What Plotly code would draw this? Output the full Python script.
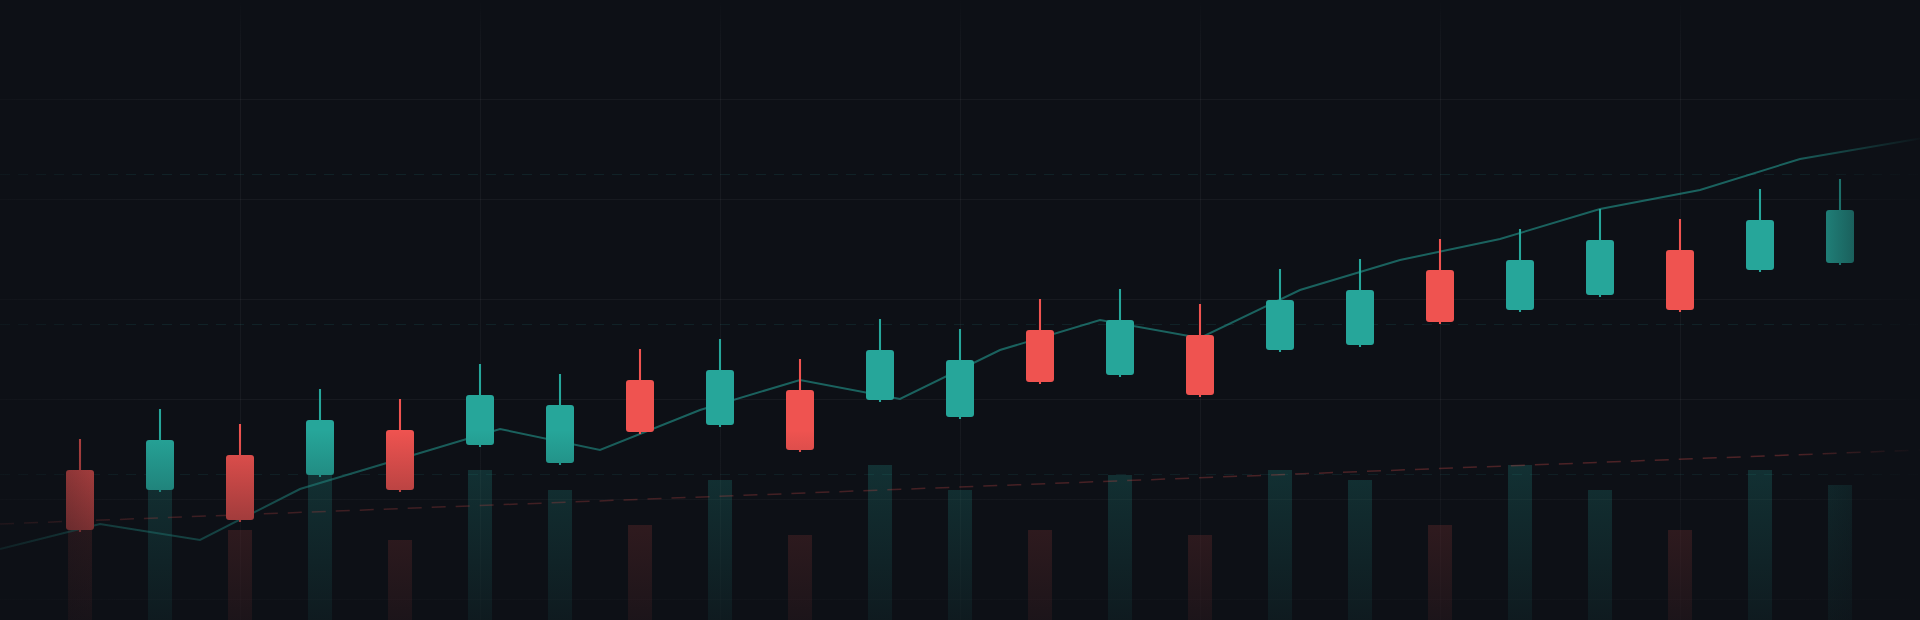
import plotly.graph_objects as go

BG = "#0d1016"
UP = "#26a69a"
DOWN = "#ef5350"

# ---- data ----
candle_idx = list(range(23))
open_ = [115.0, 113.0, 116.5, 114.5, 119.0, 117.5, 115.7, 124.0, 119.5, 123.0, 122.0, 120.3,
         129.0, 124.5, 128.5, 127.0, 127.5, 135.0, 131.0, 132.5, 137.0, 135.0, 135.7]
close = [109.0, 118.0, 110.0, 120.0, 113.0, 122.5, 121.5, 118.8, 125.0, 117.0, 127.0, 126.0,
         123.8, 130.0, 122.5, 132.0, 133.0, 129.8, 136.0, 138.0, 131.0, 140.0, 141.0]
high = [118.1, 121.1, 119.6, 123.1, 122.1, 125.6, 124.6, 127.1, 128.1, 126.1, 130.1, 129.1,
        132.1, 133.1, 131.6, 135.1, 136.1, 138.1, 139.1, 141.1, 140.1, 143.1, 144.1]
low = [108.8, 112.8, 109.8, 114.3, 112.8, 117.3, 115.5, 118.6, 119.3, 116.8, 121.8, 120.1,
       123.6, 124.3, 122.3, 126.8, 127.3, 129.6, 130.8, 132.3, 130.8, 134.8, 135.5]
volume = [900, 1300, 900, 1450, 800, 1500, 1300, 950, 1400, 850, 1550, 1300,
          900, 1450, 850, 1500, 1400, 950, 1550, 1300, 900, 1500, 1350]

ma_idx = list(range(21))
ma_values = [107.1, 109.6, 108.0, 113.1, 116.1, 119.1, 117.0, 121.0, 124.0, 122.1,
             127.0, 130.0, 128.2, 133.0, 136.0, 138.1, 141.1, 143.0, 146.1, 147.8, 149.5]

trend_pos = [0, 19.2]
trend_values = [109.6, 117.0]

# ---- derived ----
up = [c >= o for o, c in zip(open_, close)]
colors = [UP if u else DOWN for u in up]
vol_colors = ["rgba(38,166,154,0.26)" if u else "rgba(239,83,80,0.24)" for u in up]
body_base = [min(o, c) for o, c in zip(open_, close)]
body_len = [abs(c - o) for o, c in zip(open_, close)]
wick_len = [h - l for h, l in zip(high, low)]

fig = go.Figure()

# volume (bottom layer)
fig.add_trace(go.Bar(x=candle_idx, y=volume, width=0.3, marker=dict(color=vol_colors, line=dict(width=0)),
                     xaxis="x", yaxis="y", hoverinfo="skip"))

# trend line and moving average
fig.add_trace(go.Scatter(x=trend_pos, y=trend_values, mode="lines",
                         line=dict(color="rgba(239,83,80,0.32)", width=1.5, dash="14px,10px"),
                         xaxis="x2", yaxis="y2", hoverinfo="skip"))
fig.add_trace(go.Scatter(x=ma_idx, y=ma_values, mode="lines",
                         line=dict(color="rgba(38,166,154,0.55)", width=2),
                         xaxis="x2", yaxis="y2", hoverinfo="skip"))

# candles: wicks then bodies
fig.add_trace(go.Bar(x=candle_idx, y=wick_len, base=low, width=0.026,
                     marker=dict(color=colors, line=dict(width=0)),
                     xaxis="x3", yaxis="y3", hoverinfo="skip"))
fig.add_trace(go.Bar(x=candle_idx, y=body_len, base=body_base, width=0.35,
                     marker=dict(color=colors, line=dict(width=0), cornerradius=3),
                     xaxis="x3", yaxis="y3", hoverinfo="skip"))

# edge fades (decoration)
def bgc(a):
    return f"rgba(13,16,22,{a})"

def fade(x0, x1, y0, y1, kind, start, stop, a0, a1):
    fig.add_trace(go.Scatter(
        x=[x0, x1, x1, x0, x0], y=[y0, y0, y1, y1, y0], mode="lines", fill="toself",
        line=dict(width=0), fillgradient=dict(type=kind, start=start, stop=stop,
                                             colorscale=[[0, bgc(a0)], [1, bgc(a1)]]),
        xaxis="x4", yaxis="y4", hoverinfo="skip"))

fade(0, 1920, 0, 190, "vertical", 0, 190, 0.72, 0.0)
fade(0, 1920, 565, 620, "vertical", 565, 620, 0.0, 1.0)
fade(0, 150, 0, 620, "horizontal", 0, 150, 0.6, 0.0)
fade(1790, 1920, 0, 620, "horizontal", 1790, 1920, 0.0, 0.95)

hidden = dict(visible=False, showgrid=False, zeroline=False, fixedrange=True)
fig.update_layout(
    width=1920, height=620, margin=dict(l=0, r=0, t=0, b=0, pad=0),
    paper_bgcolor=BG, plot_bgcolor=BG, showlegend=False, barmode="overlay", hovermode=False,
    xaxis=dict(range=[-1, 23], showticklabels=False, ticks="", zeroline=False, showline=False,
               tickmode="array", tickvals=[2, 5, 8, 11, 14, 17, 20], showgrid=True,
               gridcolor="rgba(255,255,255,0.045)", gridwidth=1, fixedrange=True),
    yaxis=dict(range=[0, 6200], showticklabels=False, ticks="", zeroline=False, showline=False,
               tickmode="linear", tick0=210, dtick=1000, showgrid=True,
               gridcolor="rgba(255,255,255,0.045)", gridwidth=1, fixedrange=True,
               minor=dict(tickmode="array", tickvals=[1460, 2960, 4460], showgrid=True,
                          gridcolor="rgba(38,166,154,0.13)", griddash="10px,8px", gridwidth=1)),
    xaxis2=dict(range=[0, 19.2], overlaying="x", **hidden),
    yaxis2=dict(range=[100, 162], overlaying="y", **hidden),
    xaxis3=dict(range=[-1, 23], overlaying="x", **hidden),
    yaxis3=dict(range=[100, 162], overlaying="y", **hidden),
    xaxis4=dict(range=[0, 1920], overlaying="x", **hidden),
    yaxis4=dict(range=[0, 620], overlaying="y", **hidden),
)

fig.write_html("out.html", config={"displayModeBar": False, "staticPlot": True},
               post_script="document.body.style.margin='0';document.body.style.overflow='hidden';document.body.style.background='#0d1016';")
